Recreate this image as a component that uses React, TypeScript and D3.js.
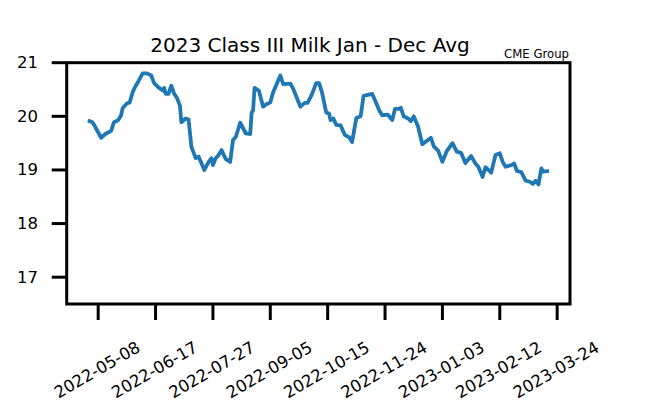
import React from "react";
import * as d3 from "d3";

const dates: string[] = [
  "2022-05-02","2022-05-04","2022-05-06","2022-05-10","2022-05-13","2022-05-17","2022-05-19","2022-05-22",
  "2022-05-24","2022-05-25","2022-05-28","2022-05-30","2022-06-01","2022-06-03","2022-06-05","2022-06-08",
  "2022-06-11","2022-06-14","2022-06-16","2022-06-19","2022-06-22","2022-06-23","2022-06-24","2022-06-26",
  "2022-06-28","2022-06-30","2022-07-02","2022-07-04","2022-07-05","2022-07-08","2022-07-10","2022-07-12",
  "2022-07-15","2022-07-17","2022-07-21","2022-07-24","2022-07-26","2022-07-27","2022-07-29","2022-07-31",
  "2022-08-02","2022-08-05","2022-08-08","2022-08-10","2022-08-12","2022-08-15","2022-08-19","2022-08-22",
  "2022-08-23","2022-08-24","2022-08-25","2022-08-28","2022-08-31","2022-09-02","2022-09-05","2022-09-07",
  "2022-09-12","2022-09-14","2022-09-19","2022-09-21","2022-09-26","2022-09-29","2022-10-01","2022-10-04",
  "2022-10-07","2022-10-09","2022-10-11","2022-10-14","2022-10-16","2022-10-17","2022-10-19","2022-10-21",
  "2022-10-24","2022-10-27","2022-10-30","2022-11-01","2022-11-04","2022-11-07","2022-11-09","2022-11-12",
  "2022-11-15","2022-11-17","2022-11-20","2022-11-22","2022-11-26","2022-11-29","2022-12-01","2022-12-04",
  "2022-12-05","2022-12-07","2022-12-10","2022-12-12","2022-12-14","2022-12-17","2022-12-20","2022-12-23",
  "2022-12-26","2022-12-28","2022-12-31","2023-01-03","2023-01-06","2023-01-10","2023-01-13","2023-01-16",
  "2023-01-19","2023-01-23","2023-01-26","2023-01-28","2023-01-31","2023-02-02","2023-02-04","2023-02-06",
  "2023-02-09","2023-02-12","2023-02-14","2023-02-16","2023-02-20","2023-02-22","2023-02-24","2023-02-27",
  "2023-03-02","2023-03-05","2023-03-07","2023-03-09","2023-03-11","2023-03-13","2023-03-14","2023-03-17",
];

const prices: number[] = [
  19.91,19.89,19.80,19.60,19.67,19.73,19.89,19.93,
  20.02,20.15,20.24,20.26,20.45,20.56,20.65,20.80,
  20.80,20.76,20.62,20.54,20.48,20.53,20.42,20.42,
  20.57,20.42,20.34,20.20,19.89,19.96,19.94,19.43,
  19.22,19.25,19.00,19.15,19.22,19.09,19.22,19.28,
  19.37,19.20,19.15,19.56,19.62,19.88,19.68,19.67,
  20.07,20.11,20.53,20.48,20.18,20.22,20.26,20.45,
  20.76,20.60,20.61,20.51,20.18,20.25,20.25,20.41,
  20.62,20.62,20.45,20.07,20.05,19.93,19.96,19.84,
  19.83,19.65,19.61,19.52,19.97,20.00,20.38,20.40,
  20.42,20.30,20.11,20.02,20.03,19.93,20.14,20.14,
  20.16,20.00,19.96,19.91,20.00,19.81,19.48,19.54,
  19.60,19.44,19.36,19.15,19.35,19.50,19.34,19.32,
  19.13,19.26,19.12,19.06,18.87,19.05,19.00,18.95,
  19.28,19.31,19.15,19.06,19.09,19.12,18.98,18.96,
  18.80,18.78,18.74,18.80,18.73,19.03,18.97,18.98,
];

const xTickLabels: string[] = [
  "2022-05-08","2022-06-17","2022-07-27","2022-09-05","2022-10-15",
  "2022-11-24","2023-01-03","2023-02-12","2023-03-24",
];
const yTicks: number[] = [17, 18, 19, 20, 21];

const title = "2023 Class III Milk Jan - Dec Avg";
const source = "CME Group";

const W = 653;
const H = 417;
const L = 66.7, R = 570, T = 62.7, B = 304;
const FONT = "DejaVu Sans, sans-serif";

export default function App() {
  const parse = d3.utcParse("%Y-%m-%d");
  const pts = dates.map((d, i) => ({ date: parse(d) as Date, v: prices[i] }));
  const ext = d3.extent(pts, (p) => p.date.getTime()) as [number, number];
  const pad = (ext[1] - ext[0]) * 0.05;
  const x = d3.scaleUtc().domain([new Date(ext[0] - pad), new Date(ext[1] + pad)]).range([L, R]);
  const y = d3.scaleLinear().domain([16.5, 21]).range([B, T]);
  const line = d3
    .line<{ date: Date; v: number }>()
    .x((p) => x(p.date))
    .y((p) => y(p.v));

  return (
    <svg
      width={W}
      height={H}
      style={{ position: "absolute", left: 0, top: 0, background: "#fff" }}
      fontFamily={FONT}
    >
      <rect x={0} y={0} width={W} height={H} fill="#fff" />
      <path d={line(pts) || ""} fill="none" stroke="#1f77b4" strokeWidth={3.8} strokeLinejoin="round" strokeLinecap="square" />
      <rect x={L} y={T} width={R - L} height={B - T} fill="none" stroke="#000" strokeWidth={3} />
      {yTicks.map((t) => (
        <g key={t}>
          <line x1={L - 15} x2={L} y1={y(t)} y2={y(t)} stroke="#000" strokeWidth={3} />
          <text x={38} y={y(t)} textAnchor="end" dominantBaseline="central" fontSize={16.5} fill="#000">
            {t}
          </text>
        </g>
      ))}
      {xTickLabels.map((s) => {
        const px = x(parse(s) as Date);
        return (
          <g key={s}>
            <line x1={px} x2={px} y1={B} y2={B + 16} stroke="#000" strokeWidth={3} />
            <text
              transform={`translate(${px - 1},370) rotate(-30)`}
              textAnchor="middle"
              dominantBaseline="central"
              fontSize={16.5}
              fill="#000"
            >
              {s}
            </text>
          </g>
        );
      })}
      <text x={310} y={52} textAnchor="middle" fontSize={20} fill="#000">
        {title}
      </text>
      <text x={569} y={58} textAnchor="end" fontSize={11.7} fill="#000">
        {source}
      </text>
    </svg>
  );
}
